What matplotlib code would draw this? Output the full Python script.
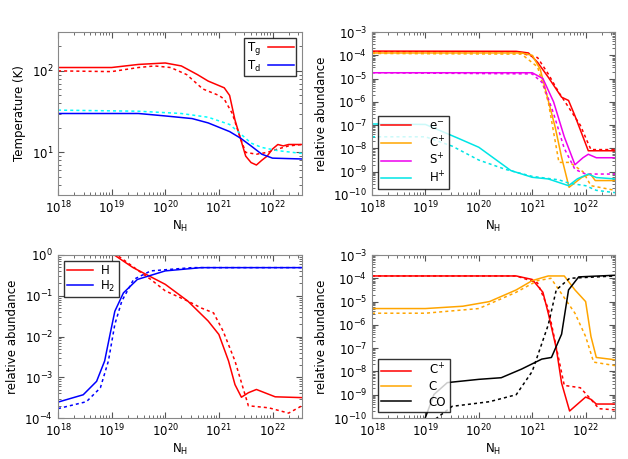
import numpy as np
import matplotlib
matplotlib.use("Agg")
import matplotlib.pyplot as plt
from matplotlib.ticker import LogLocator, FixedLocator, NullFormatter

# All x values are log10(N_H); y values for abundances are log10(abundance)
# Panel 1: temperatures (K)
tg_x = [18, 19, 19.5, 20, 20.3, 20.6, 20.8, 21.1, 21.2, 21.3, 21.4, 21.5, 21.6, 21.7, 21.8, 21.9, 22.0, 22.1, 22.2, 22.3, 22.55]
tg_y = [110, 110, 120, 125, 115, 90, 75, 62, 50, 25, 15, 9, 7.5, 7, 8, 9, 11, 12.5, 12, 12.5, 12.5]
tgd_x = [18, 19, 19.5, 19.8, 20.1, 20.4, 20.7, 21.0, 21.1, 21.25, 21.4, 21.5, 21.7, 21.9, 22.1, 22.3, 22.55]
tgd_y = [100, 98, 110, 115, 110, 90, 60, 50, 45, 30, 15, 10, 9.5, 10, 11, 12, 12.5]
td_x = [18, 19.5, 20, 20.5, 20.8, 21.2, 21.4, 21.6, 21.8, 22.0, 22.55]
td_y = [30, 30, 28, 26, 23, 18, 15, 12, 9.5, 8.5, 8.3]
tdd_x = [18, 19.5, 20.3, 20.8, 21.2, 21.4, 21.6, 21.8, 22.1, 22.55]
tdd_y = [33, 32, 30, 27, 22, 17, 13, 11.5, 10.5, 9.7]

# Panel 2: ions
e_x = [18, 20.7, 20.93, 21.1, 21.3, 21.55, 21.68, 21.8, 21.93, 22.05, 22.55]
e_y = [-3.82, -3.83, -3.9, -4.3, -4.94, -5.8, -5.94, -6.6, -7.38, -8.1, -8.1]
ed_x = [18, 20.7, 21.1, 21.3, 21.5, 21.7, 21.9, 22.05, 22.1, 22.55]
ed_y = [-3.85, -3.85, -4.1, -4.8, -5.6, -6.3, -7.0, -7.8, -8.05, -8.05]
cp_x = [18, 20.8, 21.0, 21.15, 21.3, 21.43, 21.55, 21.69, 21.93, 22.09, 22.18, 22.55]
cp_y = [-3.9, -3.9, -4.0, -4.6, -5.94, -7.09, -8.38, -9.67, -9.24, -9.1, -9.38, -9.38]
cpd_x = [18, 20.8, 21.1, 21.3, 21.5, 21.7, 21.95, 22.1, 22.55]
cpd_y = [-3.92, -3.95, -4.5, -6.0, -8.6, -8.6, -9.0, -9.6, -9.8]
sp_x = [18, 21.0, 21.2, 21.4, 21.6, 21.8, 21.95, 22.05, 22.2, 22.55]
sp_y = [-4.75, -4.75, -5.0, -6.0, -7.5, -8.7, -8.4, -8.25, -8.4, -8.4]
spd_x = [18, 21.0, 21.2, 21.4, 21.6, 21.8, 22.0, 22.55]
spd_y = [-4.75, -4.8, -5.2, -6.5, -8.0, -8.9, -9.1, -9.1]
hp_x = [18, 19, 19.6, 20, 20.6, 21, 21.3, 21.68, 21.85, 22.05, 22.2, 22.55]
hp_y = [-6.95, -6.97, -7.55, -7.95, -8.95, -9.24, -9.31, -9.6, -9.3, -9.1, -9.25, -9.31]
hpd_x = [18, 19, 19.5, 20, 20.5, 21, 21.5, 21.7, 22.0, 22.2, 22.55]
hpd_y = [-7.5, -7.5, -7.9, -8.5, -8.9, -9.2, -9.35, -9.5, -9.6, -9.8, -9.9]

# Panel 3: H and H2
h_x = [18, 19.05, 19.4, 20, 20.42, 20.8, 21, 21.18, 21.3, 21.42, 21.55, 21.7, 22.05, 22.55]
h_y = [0, 0, -0.31, -0.72, -1.13, -1.62, -1.95, -2.6, -3.18, -3.49, -3.38, -3.3, -3.48, -3.5]
hd_x = [18, 19.1, 19.6, 19.73, 20, 20.42, 20.67, 20.9, 21.08, 21.3, 21.45, 21.55, 21.93, 22.3, 22.55]
hd_y = [0, 0, -0.48, -0.6, -0.88, -1.13, -1.3, -1.42, -1.87, -2.6, -3.26, -3.7, -3.75, -3.88, -3.7]
h2_x = [18, 18.47, 18.72, 18.87, 18.97, 19.06, 19.22, 19.48, 20, 20.67, 22.55]
h2_y = [-3.61, -3.43, -3.1, -2.6, -1.95, -1.38, -0.93, -0.6, -0.39, -0.31, -0.31]
h2d_x = [18, 18.53, 18.79, 18.94, 19.06, 19.19, 19.41, 19.73, 20.5, 22.55]
h2d_y = [-3.77, -3.6, -3.26, -2.6, -1.7, -1.13, -0.6, -0.39, -0.31, -0.31]

# Panel 4: carbon
c1_x = [18, 20.7, 21.0, 21.2, 21.3, 21.45, 21.55, 21.7, 21.85, 22.0, 22.1, 22.2, 22.55]
c1_y = [-3.9, -3.9, -4.05, -4.6, -5.5, -7.0, -8.5, -9.7, -9.4, -9.1, -9.2, -9.4, -9.4]
c1d_x = [18, 20.7, 21.1, 21.3, 21.5, 21.6, 21.9, 22.1, 22.25, 22.55]
c1d_y = [-3.9, -3.9, -4.2, -5.3, -7.5, -8.6, -8.7, -9.2, -9.6, -9.65]
c0_x = [18, 19, 19.7, 20.2, 20.7, 21.0, 21.3, 21.6, 21.8, 22.0, 22.1, 22.2, 22.55]
c0_y = [-5.3, -5.3, -5.2, -5.0, -4.5, -4.1, -3.9, -3.9, -4.5, -5.0, -6.5, -7.4, -7.5]
c0d_x = [18, 19, 20, 20.7, 21.1, 21.35, 21.5, 21.8, 22.0, 22.15, 22.55]
c0d_y = [-5.5, -5.5, -5.3, -4.6, -4.1, -4.0, -4.5, -5.5, -6.5, -7.6, -7.75]
co_x = [18.98, 19.16, 19.41, 20.0, 20.42, 20.8, 21.18, 21.36, 21.55, 21.68, 21.87, 22.55]
co_y = [-10.1, -8.99, -8.48, -8.34, -8.27, -7.9, -7.47, -7.4, -6.4, -4.5, -3.94, -3.87]
cod_x = [19.1, 19.5, 20.2, 20.7, 21.0, 21.3, 21.45, 21.7, 22.55]
cod_y = [-10.2, -9.5, -9.3, -9.0, -8.0, -6.0, -4.5, -4.0, -3.9]

ORANGE = "#ffa500"
plt.rcParams["font.family"] = "DejaVu Sans"
plt.rcParams["font.size"] = 8.5

fig = plt.figure(figsize=(6.28, 4.59), dpi=100)
W, H = 628, 459
def mk(x0, y0, x1, y1):
    return fig.add_axes([x0 / W, 1 - y1 / H, (x1 - x0) / W, (y1 - y0) / H])

axs = [mk(58, 32, 302, 195), mk(372, 32, 615, 195), mk(58, 255, 302, 418), mk(372, 255, 615, 418)]

def p(v): return 10.0 ** np.asarray(v, dtype=float)

def style(ax, ylim, ylabel):
    ax.set_xscale("log"); ax.set_yscale("log")
    ax.set_xlim(1e18, 10 ** 22.55); ax.set_ylim(*ylim)
    ax.xaxis.set_major_locator(FixedLocator([1e18, 1e19, 1e20, 1e21, 1e22]))
    ax.xaxis.set_minor_locator(LogLocator(base=10, subs=np.arange(2, 10), numticks=20))
    ax.xaxis.set_minor_formatter(NullFormatter())
    ax.yaxis.set_major_locator(LogLocator(base=10, numticks=20))
    ax.yaxis.set_minor_locator(LogLocator(base=10, subs=np.arange(2, 10), numticks=20))
    ax.yaxis.set_minor_formatter(NullFormatter())
    ax.tick_params(which="both", direction="in", top=True, right=True, colors="#555555", labelcolor="black")
    ax.tick_params(which="major", length=4)
    ax.tick_params(which="minor", length=2)
    for s in ax.spines.values():
        s.set_color("#888888")
    ax.set_xlabel("N$_\\mathregular{H}$", labelpad=2)
    ax.set_ylabel(ylabel)

lw = 1.1
ax = axs[0]
ax.plot(p(tg_x), tg_y, color="red", lw=lw, label="T$_\\mathregular{g}$")
ax.plot(p(td_x), td_y, color="blue", lw=lw, label="T$_\\mathregular{d}$")
ax.plot(p(tgd_x), tgd_y, color="red", lw=lw, ls=(0, (2, 2)))
ax.plot(p(tdd_x), tdd_y, color="cyan", lw=lw, ls=(0, (2, 2)))
style(ax, (3, 300), "Temperature (K)")
ax.legend(loc="upper right", markerfirst=False, handlelength=2.2, fancybox=False,
          edgecolor="black", borderpad=0.2, labelspacing=0.1, handletextpad=0.6)

ax = axs[1]
for (x, y, xd, yd, c, lab) in [(e_x, e_y, ed_x, ed_y, "red", "e$^{-}$"),
                                (cp_x, cp_y, cpd_x, cpd_y, ORANGE, "C$^{+}$"),
                                (sp_x, sp_y, spd_x, spd_y, "#ee00ee", "S$^{+}$"),
                                (hp_x, hp_y, hpd_x, hpd_y, "#00e5e5", "H$^{+}$")]:
    ax.plot(p(x), p(y), color=c, lw=lw, label=lab)
    ax.plot(p(xd), p(yd), color=c, lw=lw, ls=(0, (2, 2)))
style(ax, (1e-10, 1e-3), "relative abundance")
ax.legend(loc="lower left", handlelength=2.5, fancybox=False, edgecolor="black",
          borderpad=0.3, labelspacing=0.2, handletextpad=1.5)

ax = axs[2]
ax.plot(p(h_x), p(h_y), color="red", lw=lw, label="H")
ax.plot(p(h2_x), p(h2_y), color="blue", lw=lw, label="H$_\\mathregular{2}$")
ax.plot(p(hd_x), p(hd_y), color="red", lw=lw, ls=(0, (2, 2)))
ax.plot(p(h2d_x), p(h2d_y), color="blue", lw=lw, ls=(0, (2, 2)))
style(ax, (1e-4, 1), "relative abundance")
ax.legend(loc="upper left", handlelength=2.2, fancybox=False, edgecolor="black",
          borderpad=0.3, labelspacing=0.1, handletextpad=0.6)

ax = axs[3]
for (x, y, xd, yd, c, lab) in [(c1_x, c1_y, c1d_x, c1d_y, "red", "C$^{+}$"),
                                (c0_x, c0_y, c0d_x, c0d_y, ORANGE, "C"),
                                (co_x, co_y, cod_x, cod_y, "black", "CO")]:
    ax.plot(p(x), p(y), color=c, lw=lw, label=lab)
    ax.plot(p(xd), p(yd), color=c, lw=lw, ls=(0, (2, 2)))
style(ax, (1e-10, 1e-3), "relative abundance")
ax.legend(loc="lower left", handlelength=2.5, fancybox=False, edgecolor="black",
          borderpad=0.3, labelspacing=0.2, handletextpad=1.5)

fig.savefig("out.png", dpi=100)
